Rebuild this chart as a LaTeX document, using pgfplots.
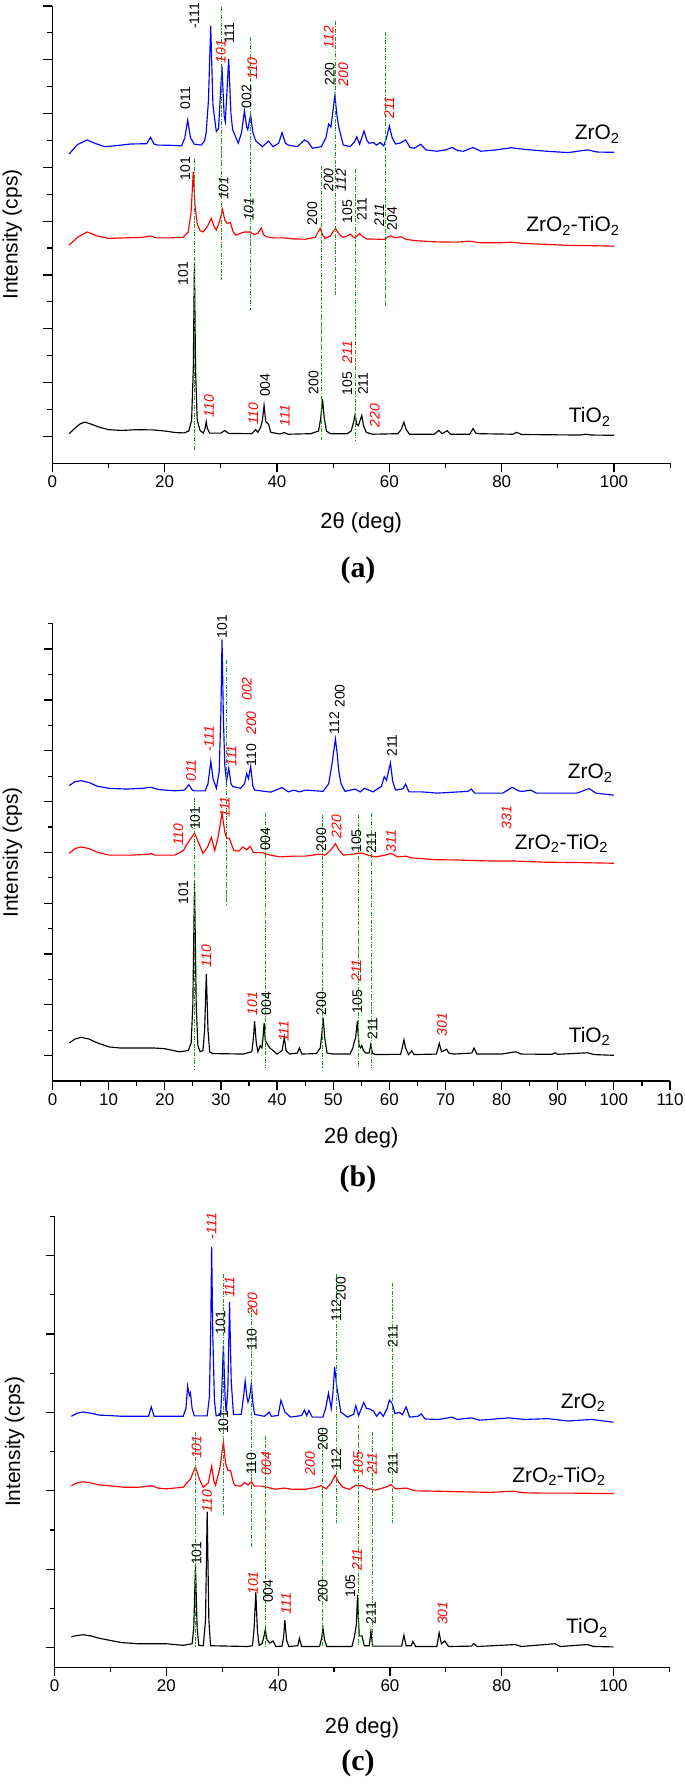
\documentclass[border=0pt]{standalone}
\usepackage{pgfplots}
\pgfplotsset{compat=1.18}
\usepackage{fontspec}
\setmainfont{Liberation Sans}
\newfontfamily\timesfont{Liberation Serif}
\definecolor{gline}{RGB}{30,155,30}
\newcommand{\lblfont}{\fontsize{14}{14}\selectfont}
\newcommand{\hk}[3]{\node[rotate=90,font=\lblfont] at (axis cs:#1,#2) {#3};}
\newcommand{\hi}[3]{\node[rotate=90,font=\lblfont\itshape] at (axis cs:#1,#2) {#3};}
\newcommand{\hr}[3]{\node[rotate=90,font=\lblfont\itshape,text=red] at (axis cs:#1,#2) {#3};}
\newcommand{\sname}[3]{\node[anchor=base east,font=\fontsize{21}{21}\selectfont] at (axis cs:#1,#2) {#3};}
\pgfplotsset{xrdaxis/.style={
  scale only axis, xmin=0, xmax=110,
  axis x line=bottom, axis y line=left, axis line style={-, line width=1.2bp},
  tick align=outside, major tick length=9bp, minor tick length=5bp,
  tick style={black, line width=1.2bp},
  yticklabels={}, clip=false,
  ticklabel style={font=\fontsize{17}{17}\selectfont},
  every axis y label/.style={at={(axis description cs:0,0.5)}, xshift=-40bp, anchor=center, rotate=90, font=\fontsize{21}{21}\selectfont},
  every axis x label/.style={at={(axis description cs:0.5,0)}, anchor=center, font=\fontsize{22}{22}\selectfont},
  ylabel={Intensity (cps)},
},
zr/.style={blue, line width=1.15bp},
zt/.style={red, line width=1.15bp},
ti/.style={black, line width=1.15bp},
gl/.style={gline, line width=0.9bp, dash pattern=on 4bp off 1.5bp on 1.2bp off 1.5bp},
}
\begin{document}
\begin{tikzpicture}
\useasboundingbox (0,0) rectangle (685bp,1784bp);
% ---------------- (a)
\begin{axis}[xrdaxis, at={(52.3bp,1320.7bp)}, anchor=south west, width=617.9bp, height=457.3bp,
  ymin=-1, ymax=16, ytick={0,2,...,16}, minor ytick={1,3,...,15},
  xtick={0,20,...,100}, xticklabels={0,20,40,60,80,100}, minor xtick={10,30,...,110},
  xlabel={2θ (deg)}, xlabel style={yshift=-59.7bp}]
\addplot[ti] coordinates {(3,0.1)(4,0.3)(5,0.47)(5.8,0.53)(7,0.45)(8.5,0.33)(10,0.25)(12.4,0.22)(15,0.25)(18,0.24)(20,0.2)(22,0.14)(23.5,0.13)(24.3,0.2)(24.8,0.6)(25.1,2.5)(25.3,6.43)(25.5,2.5)(25.8,0.6)(26.3,0.22)(26.9,0.12)(27.2,0.3)(27.4,0.55)(27.6,0.3)(28,0.12)(30,0.12)(30.7,0.22)(31.4,0.11)(35.5,0.1)(36.2,0.25)(36.6,0.15)(37.1,0.35)(37.4,0.6)(37.7,1.15)(38.0,0.55)(38.5,0.45)(38.9,0.15)(40.5,0.09)(41.3,0.14)(42,0.08)(46,0.1)(47.4,0.2)(47.8,0.7)(48.1,1.38)(48.4,0.7)(48.8,0.2)(49.5,0.1)(52.5,0.1)(53.2,0.2)(53.6,0.5)(53.9,0.8)(54.2,0.45)(54.5,0.4)(54.8,0.6)(55.1,0.78)(55.4,0.4)(55.9,0.15)(57,0.08)(61.5,0.1)(62.1,0.25)(62.6,0.53)(63,0.25)(63.6,0.08)(68,0.08)(68.8,0.22)(69.4,0.1)(70.3,0.21)(70.9,0.08)(74.3,0.08)(74.9,0.29)(75.4,0.12)(76,0.1)(82,0.08)(82.7,0.15)(83.5,0.07)(94,0.05)(95,0.08)(96,0.05)(100,0.04)};
\addplot[zt] coordinates {(3,7.11)(4.5,7.4)(6.2,7.6)(8,7.45)(10,7.36)(13,7.38)(16,7.4)(17.5,7.45)(18.5,7.38)(21,7.38)(23.3,7.4)(24.2,7.6)(24.7,8.3)(25.1,9.84)(25.4,8.6)(25.8,7.9)(26.3,7.65)(26.8,7.6)(27.6,7.8)(28.3,8.1)(28.8,7.8)(29.2,7.67)(29.8,8.0)(30.3,8.44)(30.7,8.05)(31.1,7.92)(31.7,7.95)(32.2,7.6)(32.7,7.48)(33.5,7.55)(34.2,7.6)(35.2,7.6)(36,7.5)(36.6,7.55)(37.2,7.75)(37.6,7.5)(38.1,7.42)(39.5,7.38)(41.2,7.38)(43,7.34)(45.1,7.33)(46.8,7.4)(47.7,7.73)(48.1,7.5)(48.6,7.36)(49.5,7.45)(50.4,7.73)(51.1,7.5)(51.8,7.4)(52.5,7.45)(53.1,7.52)(53.6,7.4)(53.9,7.38)(54.7,7.54)(55.3,7.42)(56,7.34)(58,7.33)(59.1,7.32)(59.6,7.4)(60.3,7.45)(61,7.38)(62.1,7.42)(63,7.32)(65,7.27)(68.5,7.23)(72,7.22)(74.3,7.26)(76,7.2)(80,7.2)(81.7,7.22)(84,7.17)(87.9,7.14)(92,7.1)(96,7.09)(100,7.07)};
\addplot[zr] coordinates {(3,10.5)(4.5,10.85)(6.2,11.02)(7.5,10.9)(9.3,10.77)(11,10.8)(14,10.87)(16.8,10.88)(17.5,11.12)(18.1,10.87)(18.7,10.83)(21,10.82)(23,10.8)(23.6,11.1)(24.1,11.76)(24.6,11.1)(25.3,10.86)(26.5,10.83)(27.1,10.98)(27.4,11.3)(27.8,12.5)(28.2,15.26)(28.6,12.3)(29.2,11.33)(29.6,11.45)(30.2,13.75)(30.6,11.9)(30.8,11.7)(31.4,14.02)(31.8,12.0)(32.1,11.4)(33.1,10.9)(33.7,11.3)(34.2,12.1)(34.6,11.5)(34.8,11.4)(35.3,11.95)(35.7,11.3)(36.2,10.99)(37.4,10.77)(38.5,10.98)(39.3,10.77)(40.3,10.9)(40.9,11.29)(41.5,10.9)(42,10.83)(43.6,10.77)(44.9,11.02)(45.5,10.95)(46.3,10.71)(47.9,10.77)(48.7,11.1)(49.2,11.61)(49.6,11.5)(50.3,12.66)(50.7,11.9)(51,11.5)(51.8,10.83)(53,10.77)(53.8,10.95)(54.2,11.14)(54.7,10.86)(55.5,11.35)(56.0,11.0)(56.4,10.9)(57.2,10.92)(57.7,10.83)(58.4,10.92)(59,10.8)(59.5,11.1)(60.0,11.54)(60.5,11.1)(61.1,10.87)(61.9,10.9)(62.9,11.02)(63.7,10.74)(64.4,10.71)(65.6,10.86)(66.5,10.65)(68.5,10.6)(70,10.65)(71.2,10.74)(72.2,10.62)(73.2,10.6)(74.9,10.74)(76.3,10.6)(79,10.65)(81.7,10.73)(84,10.67)(88,10.6)(91.8,10.55)(95.3,10.65)(97,10.57)(100,10.56)};
\addplot[gl] coordinates {(25.3,10.33)(25.3,-0.52)};
\addplot[gl] coordinates {(30.2,15.98)(30.2,5.81)};
\addplot[gl] coordinates {(35.3,14.84)(35.3,4.69)};
\addplot[gl] coordinates {(48.0,10.05)(48.0,-0.15)};
\addplot[gl] coordinates {(50.4,15.46)(50.4,5.25)};
\addplot[gl] coordinates {(53.9,9.93)(53.9,-0.17)};
\addplot[gl] coordinates {(59.3,15.04)(59.3,4.85)};
% ZrO2 labels
\hk{23.7}{12.57}{011}
\hk{25.3}{15.63}{-111}
\hr{30.0}{14.3}{101}
\hk{31.5}{14.99}{111}
\hr{35.6}{13.68}{110}
\hk{34.6}{12.63}{002}
\hk{49.4}{13.47}{220}
\hr{49.2}{14.84}{112}
\hr{51.8}{13.44}{200}
\hr{60.0}{12.23}{211}
% ZrO2-TiO2 labels
\hk{23.7}{9.96}{101}
\hi{30.5}{9.22}{101}
\hi{35.0}{8.44}{101}
\hk{46.3}{8.29}{200}
\hi{49.2}{9.53}{200}
\hi{51.4}{9.53}{112}
\hk{52.5}{8.35}{105}
\hk{55.1}{8.44}{211}
\hi{58.2}{8.23}{211}
\hk{60.5}{8.1}{204}
% TiO2 labels
\hk{23.3}{6.05}{101}
\hr{27.9}{1.12}{110}
\hr{35.8}{0.84}{110}
\hk{37.9}{1.9}{004}
\hr{41.4}{0.78}{111}
\hk{46.5}{1.99}{200}
\hr{52.5}{3.14}{211}
\hk{52.5}{1.96}{105}
\hk{55.3}{1.96}{211}
\hr{57.4}{0.78}{220}
\sname{101.6}{11.02}{ZrO\textsubscript{2}}
\sname{101.6}{7.6}{ZrO\textsubscript{2}-TiO\textsubscript{2}}
\sname{100}{0.5}{TiO\textsubscript{2}}
\end{axis}
% ---------------- (b)
\begin{axis}[xrdaxis, at={(52.5bp,703bp)}, anchor=south west, width=617.5bp, height=457.3bp,
  ymin=-1, ymax=17, ytick={0,2,...,16}, minor ytick={1,3,...,17},
  xtick={0,10,...,110}, xticklabels={0,10,20,30,40,50,60,70,80,90,100,110}, minor xtick={5,15,...,105},
  xlabel={2θ deg)}, xlabel style={yshift=-57bp}]
\addplot[ti] coordinates {(3,0.5)(4,0.65)(5.1,0.72)(6.5,0.65)(8,0.5)(10.1,0.34)(12,0.3)(15,0.3)(18,0.3)(20,0.27)(22.6,0.15)(24.2,0.2)(24.7,0.5)(25.0,2.0)(25.3,6.84)(25.6,2.0)(25.9,0.4)(26.3,0.15)(26.8,0.2)(27.1,1.0)(27.4,3.21)(27.7,1.0)(28.0,0.15)(28.5,0.08)(34,0.06)(35.5,0.15)(35.8,0.7)(36.0,1.35)(36.3,0.5)(36.6,0.15)(37.0,0.39)(37.3,0.3)(37.5,0.7)(37.7,1.28)(37.9,0.6)(38.3,0.44)(38.7,0.3)(39.3,0.2)(40,0.06)(40.9,0.2)(41.3,0.72)(41.6,0.2)(42.2,0.06)(43.6,0.1)(44.0,0.3)(44.4,0.06)(47,0.08)(47.7,0.3)(48.0,0.9)(48.2,1.49)(48.5,0.7)(48.9,0.1)(50,0.06)(53,0.06)(53.5,0.3)(53.7,0.5)(54.0,0.7)(54.3,1.35)(54.6,0.4)(54.9,0.3)(55.1,0.39)(55.4,0.2)(55.8,0.1)(56.4,0.1)(56.7,0.44)(57.0,0.1)(57.5,0.04)(62,0.05)(62.3,0.3)(62.6,0.62)(62.9,0.3)(63.4,0.04)(64.0,0.18)(64.4,0.04)(68.4,0.06)(68.9,0.48)(69.3,0.15)(69.8,0.2)(70.2,0.25)(70.6,0.1)(71.5,0.06)(74.7,0.1)(75.1,0.3)(75.6,0.06)(80,0.06)(82.5,0.15)(83.5,0.06)(89,0.05)(89.5,0.11)(90,0.05)(95.3,0.11)(96.5,0.04)(100,0.01)};
\addplot[zt] coordinates {(3,7.96)(4,8.15)(5.1,8.21)(6.5,8.15)(8,8.0)(10.1,7.89)(14,7.89)(17,7.92)(17.5,7.96)(18.2,7.89)(21.8,7.89)(23.3,8.07)(24.2,8.4)(25.3,8.76)(26.0,8.4)(26.8,7.96)(27.6,8.2)(28.3,8.59)(28.9,8.07)(29.5,8.6)(30.2,9.54)(30.7,8.8)(31.0,8.57)(31.5,8.55)(32.3,8.07)(33.2,8.05)(33.9,8.21)(34.6,8.1)(35.2,8.24)(35.8,7.99)(37.4,7.99)(38.2,7.92)(40.5,7.82)(43,7.85)(45.1,7.85)(47.5,7.93)(48.6,7.89)(49.6,8.1)(50.4,8.34)(51.0,8.1)(51.8,7.89)(53.7,7.93)(54.5,7.97)(55.3,7.96)(56.3,7.88)(57.6,7.82)(59.4,7.9)(60.3,7.96)(61.5,7.82)(63,7.85)(64,7.78)(68.5,7.71)(72,7.7)(74.7,7.68)(78,7.66)(82.1,7.66)(87.9,7.61)(93,7.6)(100,7.57)};
\addplot[zr] coordinates {(3,10.63)(4,10.78)(5.1,10.82)(6.5,10.75)(8,10.6)(10.1,10.52)(13.2,10.49)(16,10.52)(17.5,10.56)(19,10.47)(21.8,10.42)(23.5,10.45)(24.3,10.66)(24.9,10.45)(25.3,10.42)(27.2,10.42)(27.7,10.7)(28.2,11.58)(28.6,10.9)(29.2,10.52)(29.7,11.2)(30.0,13.5)(30.2,16.37)(30.45,13.2)(30.7,11.4)(31.0,10.8)(31.4,11.31)(31.8,10.7)(32.1,10.59)(33.5,10.52)(34.2,10.7)(34.6,11.1)(34.9,10.9)(35.3,11.38)(35.7,10.6)(36.0,10.45)(38.9,10.37)(40.9,10.55)(42,10.38)(43,10.45)(44,10.38)(45.1,10.45)(48.2,10.4)(49.2,10.7)(49.8,11.5)(50.4,12.46)(50.7,11.9)(51.0,11.2)(51.4,10.7)(52.1,10.4)(53.9,10.49)(54.8,10.38)(55.6,10.52)(57.1,10.38)(58.6,10.6)(59.1,10.98)(59.5,10.84)(60.2,11.52)(60.6,10.8)(61.1,10.45)(62.4,10.5)(62.9,10.68)(63.5,10.38)(65.8,10.38)(68.5,10.33)(74.0,10.4)(74.6,10.49)(75.2,10.33)(80.2,10.33)(81.9,10.56)(83.0,10.42)(83.7,10.4)(85.2,10.45)(86.2,10.33)(93.4,10.33)(95.6,10.51)(96.8,10.33)(100,10.25)};
\addplot[gl] coordinates {(25.3,10.14)(25.3,-0.55)};
\addplot[gl] coordinates {(30.9,15.56)(30.9,5.92)};
\addplot[gl] coordinates {(38.0,9.54)(38.0,-0.48)};
\addplot[gl] coordinates {(48.1,9.47)(48.1,-0.48)};
\addplot[gl] coordinates {(54.5,9.48)(54.5,-0.48)};
\addplot[gl] coordinates {(56.8,9.54)(56.8,-0.48)};
\hr{24.7}{11.22}{011}
\hr{27.9}{12.46}{-111}
\hk{30.2}{16.89}{101}
\hr{31.9}{11.79}{111}
\hk{35.4}{11.83}{110}
\hr{35.4}{13.09}{200}
\hr{34.6}{14.43}{002}
\hk{50.2}{13.09}{112}
\hk{51.2}{14.15}{200}
\hk{60.5}{12.21}{211}
\hr{80.9}{9.37}{331}
\hr{22.4}{8.69}{110}
\hk{25.4}{9.34}{101}
\hr{30.7}{9.79}{111}
\hk{37.9}{8.52}{004}
\hk{47.9}{8.5}{200}
\hr{50.6}{9.02}{220}
\hk{54.1}{8.45}{105}
\hk{56.8}{8.38}{211}
\hr{60.3}{8.45}{311}
\hk{23.3}{6.41}{101}
\hr{27.4}{3.91}{110}
\hr{35.6}{2.05}{101}
\hk{38.1}{2.05}{004}
\hr{41.2}{0.96}{111}
\hk{47.9}{2.05}{200}
\hr{54.1}{3.35}{211}
\hk{54.3}{2.12}{105}
\hk{57.0}{1.07}{211}
\hr{69.4}{1.21}{301}
\sname{100.4}{10.89}{ZrO\textsubscript{2}}
\sname{99.6}{8.13}{ZrO\textsubscript{2}-TiO\textsubscript{2}}
\sname{100}{0.51}{TiO\textsubscript{2}}
\end{axis}
% ---------------- (c)
\begin{axis}[xrdaxis, at={(54.6bp,116.7bp)}, anchor=south west, width=614.8bp, height=451bp,
  ymin=-0.5, ymax=11, ytick={0,2,...,10}, minor ytick={1,3,...,11},
  xtick={0,20,...,100}, xticklabels={0,20,40,60,80,100}, minor xtick={10,30,...,110},
  xlabel={2θ deg)}, xlabel style={yshift=-60.7bp}]
\addplot[ti] coordinates {(3,0.28)(4,0.31)(5.1,0.33)(6.5,0.3)(8,0.24)(9.8,0.19)(12,0.13)(15,0.1)(20,0.1)(23,0.06)(24.6,0.1)(24.9,0.5)(25.2,2.1)(25.5,0.5)(25.8,0.06)(26.6,0.05)(27.0,0.7)(27.3,3.47)(27.6,0.7)(27.9,0.05)(34.5,0.03)(35.4,0.05)(35.7,0.5)(36.0,1.41)(36.3,0.4)(36.6,0.06)(37.1,0.1)(37.4,0.25)(37.7,0.46)(38.0,0.2)(38.5,0.12)(39.1,0.17)(39.6,0.03)(40.7,0.04)(41.0,0.3)(41.2,0.7)(41.5,0.2)(41.9,0.03)(43.5,0.05)(43.8,0.24)(44.2,0.03)(47.4,0.03)(47.8,0.25)(48.0,0.51)(48.3,0.2)(48.7,0.03)(53.2,0.03)(53.7,0.32)(54.0,0.6)(54.2,1.35)(54.5,0.3)(55.0,0.3)(55.4,0.05)(56.3,0.05)(56.6,0.42)(56.9,0.04)(62.1,0.04)(62.5,0.32)(62.9,0.05)(63.8,0.05)(64.1,0.16)(64.6,0.03)(68.4,0.03)(68.8,0.38)(69.2,0.1)(69.8,0.17)(70.5,0.03)(74.6,0.04)(75.0,0.1)(75.6,0.03)(82.4,0.08)(83.5,0.03)(89.5,0.1)(90.5,0.03)(95.3,0.08)(96.5,0.03)(100,0.02)};
\addplot[zt] coordinates {(3,4.13)(4,4.2)(5.1,4.23)(6.5,4.2)(8,4.15)(9.8,4.13)(12.5,4.09)(15,4.09)(17.4,4.13)(18.5,4.07)(19.9,4.05)(23,4.09)(24.3,4.3)(25.2,4.61)(25.9,4.3)(26.6,4.09)(27.5,4.2)(28.1,4.63)(28.5,4.25)(28.8,4.14)(29.6,4.6)(30.2,5.25)(30.6,4.7)(31.0,4.53)(31.5,4.51)(32.0,4.2)(32.4,4.13)(33.3,4.12)(34.0,4.21)(34.6,4.15)(35.2,4.23)(35.7,4.12)(37.1,4.12)(39.5,4.04)(41.0,4.07)(42.5,4.04)(44.9,4.04)(46.5,4.08)(47.7,4.13)(48.6,4.05)(49.5,4.2)(50.2,4.4)(50.8,4.22)(51.6,4.09)(52.7,4.04)(53.9,4.14)(55.1,4.13)(56.0,4.06)(57.4,4.02)(59.4,4.1)(60.2,4.16)(61.0,4.05)(62.9,4.07)(64.5,4.0)(68.4,3.99)(71.5,3.98)(74.6,3.97)(78,3.96)(82,3.99)(84,3.95)(87.9,3.94)(93,3.94)(100,3.93)};
\addplot[zr] coordinates {(3,5.9)(4,5.98)(5.1,6.01)(6.5,5.98)(8,5.93)(9.8,5.92)(12,5.9)(14,5.9)(16.8,5.9)(17.3,6.14)(17.8,5.9)(20,5.9)(23,5.9)(23.5,6.1)(23.8,6.67)(24.1,6.43)(24.3,6.5)(24.6,6.1)(25.0,5.91)(27.3,5.91)(27.7,6.4)(27.95,8.3)(28.1,10.22)(28.3,8.0)(28.6,6.3)(28.9,5.91)(29.7,5.94)(29.9,6.5)(30.2,7.72)(30.5,6.4)(30.7,6.0)(31.0,6.6)(31.3,8.81)(31.6,6.8)(32.0,5.95)(33.4,5.95)(33.8,6.4)(34.1,6.8)(34.4,6.4)(34.6,6.26)(34.9,6.4)(35.2,6.73)(35.5,6.2)(35.8,5.95)(37.5,5.9)(38.0,5.95)(38.4,6.01)(38.8,5.9)(40.0,5.92)(40.5,6.31)(41.2,6.01)(42.2,5.88)(44.2,5.92)(44.7,6.06)(45.1,5.92)(45.5,6.05)(46.1,5.88)(48.0,5.88)(48.5,6.1)(49.0,6.49)(49.5,6.1)(49.8,6.5)(50.1,7.15)(50.5,6.65)(51.2,6.01)(52.4,5.88)(53.5,5.95)(53.9,6.17)(54.4,5.92)(55.3,6.25)(55.8,6.1)(56.3,6.09)(57.1,6.03)(57.6,5.9)(58.2,6.01)(58.8,5.9)(59.5,6.1)(59.9,6.31)(60.4,6.23)(60.9,5.97)(61.7,6.0)(62.2,5.94)(62.9,6.14)(63.5,5.88)(65.0,5.9)(65.6,5.96)(66.3,5.83)(68.8,5.82)(71.1,5.88)(72,5.82)(74.6,5.86)(76.0,5.8)(81.3,5.86)(84,5.82)(88.3,5.84)(91.8,5.78)(96.1,5.82)(100,5.75)};
\addplot[gl] coordinates {(25.2,5.5)(25.2,0.03)};
\addplot[gl] coordinates {(30.2,9.52)(30.2,3.39)};
\addplot[gl] coordinates {(35.3,8.74)(35.3,2.57)};
\addplot[gl] coordinates {(37.8,5.4)(37.8,0.03)};
\addplot[gl] coordinates {(48.0,5.59)(48.0,0.03)};
\addplot[gl] coordinates {(50.4,9.52)(50.4,3.17)};
\addplot[gl] coordinates {(54.3,5.67)(54.3,0.03)};
\addplot[gl] coordinates {(56.8,5.5)(56.8,0.03)};
\addplot[gl] coordinates {(60.5,9.31)(60.5,3.17)};
\hr{28.1}{10.75}{-111}
\hk{29.7}{8.29}{101}
\hr{31.3}{9.19}{111}
\hk{35.3}{7.86}{110}
\hr{35.4}{8.76}{200}
\hk{50.4}{8.6}{112}
\hk{51.2}{9.16}{200}
\hk{60.5}{7.94}{211}
\hr{25.4}{5.11}{101}
\hk{30.2}{5.75}{101}
\hk{35.2}{4.69}{110}
\hr{37.9}{4.69}{004}
\hr{45.7}{4.69}{200}
\hk{48.0}{5.32}{200}
\hk{50.4}{4.79}{112}
\hr{54.3}{4.69}{105}
\hr{56.8}{4.69}{211}
\hk{60.5}{4.69}{211}
\hr{27.3}{3.74}{110}
\hk{25.4}{2.41}{101}
\hr{35.5}{1.65}{101}
\hk{38.2}{1.44}{004}
\hr{41.4}{1.12}{111}
\hk{48.0}{1.44}{200}
\hr{54.1}{2.25}{211}
\hk{52.9}{1.57}{105}
\hk{56.6}{0.88}{211}
\hr{69.4}{0.88}{301}
\sname{99.2}{6.1}{ZrO\textsubscript{2}}
\sname{99.2}{4.21}{ZrO\textsubscript{2}-TiO\textsubscript{2}}
\sname{99.6}{0.35}{TiO\textsubscript{2}}
\end{axis}
\node[font=\timesfont\bfseries\fontsize{30}{30}\selectfont] at (358bp,1214bp) {(a)};
\node[font=\timesfont\bfseries\fontsize{30}{30}\selectfont] at (358bp,605bp) {(b)};
\node[font=\timesfont\bfseries\fontsize{30}{30}\selectfont] at (358bp,21bp) {(c)};
\end{tikzpicture}
\end{document}
